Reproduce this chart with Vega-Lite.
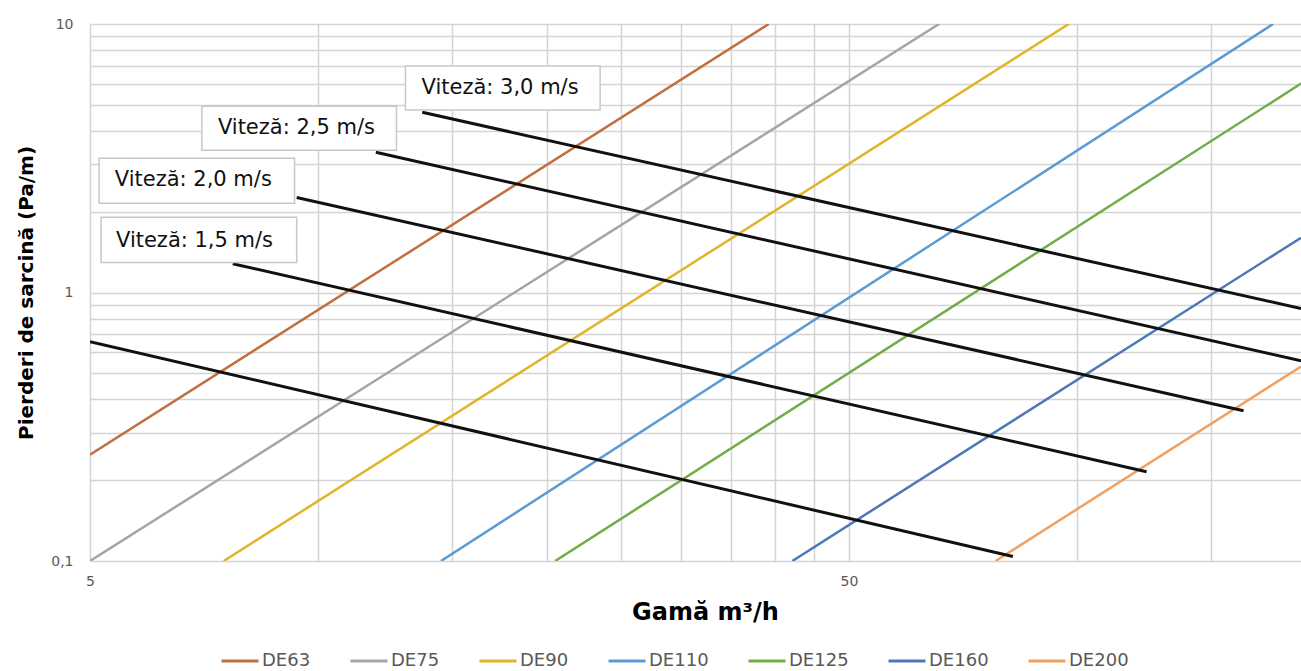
{
  "$schema": "https://vega.github.io/schema/vega-lite/v6.json",
  "width": 1211,
  "height": 537,
  "autosize": {"type": "none"},
  "padding": {"left": 90, "top": 24, "right": 0, "bottom": 110},
  "background": "white",
  "config": {"view": {"stroke": null}, "font": "DejaVu Sans"},
  "datasets": {
    "pipes": [
      {"serie": "DE63", "q": 5, "p": 0.249},
      {"serie": "DE63", "q": 39.2, "p": 10},
      {"serie": "DE75", "q": 5, "p": 0.1},
      {"serie": "DE75", "q": 65.7, "p": 10},
      {"serie": "DE90", "q": 7.5, "p": 0.1},
      {"serie": "DE90", "q": 97.4, "p": 10},
      {"serie": "DE110", "q": 14.5, "p": 0.1},
      {"serie": "DE110", "q": 181, "p": 10},
      {"serie": "DE125", "q": 20.5, "p": 0.1},
      {"serie": "DE125", "q": 197, "p": 6.0},
      {"serie": "DE160", "q": 42.1, "p": 0.1},
      {"serie": "DE160", "q": 197, "p": 1.6},
      {"serie": "DE200", "q": 78, "p": 0.1},
      {"serie": "DE200", "q": 197, "p": 0.53}
    ],
    "speeds": [
      {"v": "1,0", "q": 5, "p": 0.656},
      {"v": "1,0", "q": 82.2, "p": 0.104},
      {"v": "1,5", "q": 7.71, "p": 1.28},
      {"v": "1,5", "q": 123.3, "p": 0.215},
      {"v": "2,0", "q": 9.36, "p": 2.26},
      {"v": "2,0", "q": 165.5, "p": 0.363},
      {"v": "2,5", "q": 11.9, "p": 3.33},
      {"v": "2,5", "q": 197, "p": 0.557},
      {"v": "3,0", "q": 13.7, "p": 4.69},
      {"v": "3,0", "q": 197, "p": 0.872}
    ],
    "labels": [
      {"label": "Viteză: 3,0 m/s", "q": 13.02, "q2": 23.5, "p": 4.78, "p2": 6.97, "tq": 13.67, "tp": 5.77},
      {"label": "Viteză: 2,5 m/s", "q": 7.02, "q2": 12.67, "p": 3.39, "p2": 4.94, "tq": 7.37, "tp": 4.09},
      {"label": "Viteză: 2,0 m/s", "q": 5.14, "q2": 9.3, "p": 2.15, "p2": 3.16, "tq": 5.39, "tp": 2.62},
      {"label": "Viteză: 1,5 m/s", "q": 5.17, "q2": 9.36, "p": 1.294, "p2": 1.905, "tq": 5.41, "tp": 1.56}
    ]
  },
  "layer": [
    {
      "data": {"name": "pipes"},
      "mark": {"type": "line", "clip": true, "strokeWidth": 2.5},
      "encoding": {
        "x": {
          "field": "q",
          "type": "quantitative",
          "scale": {"type": "log", "domain": [5, 197], "nice": false, "zero": false},
          "axis": {
            "values": [5, 10, 15, 20, 25, 30, 35, 40, 45, 50, 100, 150],
            "labelExpr": "datum.value == 5 ? '5' : datum.value == 50 ? '50' : ''",
            "grid": true,
            "gridColor": "#d4d4d4",
            "gridWidth": 1.5,
            "ticks": false,
            "domain": false,
            "labelFont": "DejaVu Sans",
            "labelFontSize": 14,
            "labelColor": "#595959",
            "labelPadding": 13,
            "labelOverlap": false,
            "labelFlush": false,
            "title": "Gamă m³/h",
            "titleFont": "DejaVu Sans",
            "titleFontSize": 24,
            "titleFontWeight": "bold",
            "titleColor": "#000000",
            "titlePadding": 12,
            "titleX": 615
          }
        },
        "y": {
          "field": "p",
          "type": "quantitative",
          "scale": {"type": "log", "domain": [0.1, 10], "nice": false, "zero": false},
          "axis": {
            "values": [0.1, 0.2, 0.3, 0.4, 0.5, 0.6, 0.7, 0.8, 0.9, 1, 2, 3, 4, 5, 6, 7, 8, 9, 10],
            "labelExpr": "datum.value == 0.1 ? '0,1' : datum.value == 1 ? '1' : datum.value == 10 ? '10' : ''",
            "grid": true,
            "gridColor": "#d4d4d4",
            "gridWidth": 1.5,
            "ticks": false,
            "domain": false,
            "labelFont": "DejaVu Sans",
            "labelFontSize": 14,
            "labelColor": "#595959",
            "labelPadding": 17,
            "labelOverlap": false,
            "labelFlush": false,
            "title": "Pierderi de sarcină (Pa/m)",
            "titleFont": "DejaVu Sans",
            "titleFontSize": 20,
            "titleFontWeight": "bold",
            "titleColor": "#000000",
            "titlePadding": 14
          }
        },
        "color": {
          "field": "serie",
          "type": "nominal",
          "scale": {
            "domain": ["DE63", "DE75", "DE90", "DE110", "DE125", "DE160", "DE200"],
            "range": ["#C0703C", "#A5A5A5", "#E0B52A", "#5B9BD5", "#70AD47", "#4A78B8", "#F0A060"]
          },
          "legend": {
            "orient": "none",
            "legendX": 130,
            "legendY": 617,
            "direction": "horizontal",
            "columns": 7,
            "title": null,
            "symbolType": "stroke",
            "symbolStrokeWidth": 3,
            "symbolSize": 1369,
            "labelFont": "DejaVu Sans",
            "labelFontSize": 18,
            "labelColor": "#595959",
            "labelOffset": 2,
            "columnPadding": 33
          }
        }
      }
    },
    {
      "data": {"name": "speeds"},
      "mark": {"type": "line", "clip": true, "strokeWidth": 3, "color": "#111111"},
      "encoding": {
        "x": {"field": "q", "type": "quantitative"},
        "y": {"field": "p", "type": "quantitative"},
        "detail": {"field": "v", "type": "nominal"}
      }
    },
    {
      "data": {"name": "labels"},
      "mark": {"type": "rect", "fill": "white", "stroke": "#c8c8c8", "strokeWidth": 1.5},
      "encoding": {
        "x": {"field": "q", "type": "quantitative"},
        "x2": {"field": "q2"},
        "y": {"field": "p", "type": "quantitative"},
        "y2": {"field": "p2"}
      }
    },
    {
      "data": {"name": "labels"},
      "mark": {"type": "text", "align": "left", "baseline": "middle", "font": "DejaVu Sans", "fontSize": 21, "fontWeight": 500, "color": "#111111"},
      "encoding": {
        "x": {"field": "tq", "type": "quantitative"},
        "y": {"field": "tp", "type": "quantitative"},
        "text": {"field": "label", "type": "nominal"}
      }
    }
  ]
}
